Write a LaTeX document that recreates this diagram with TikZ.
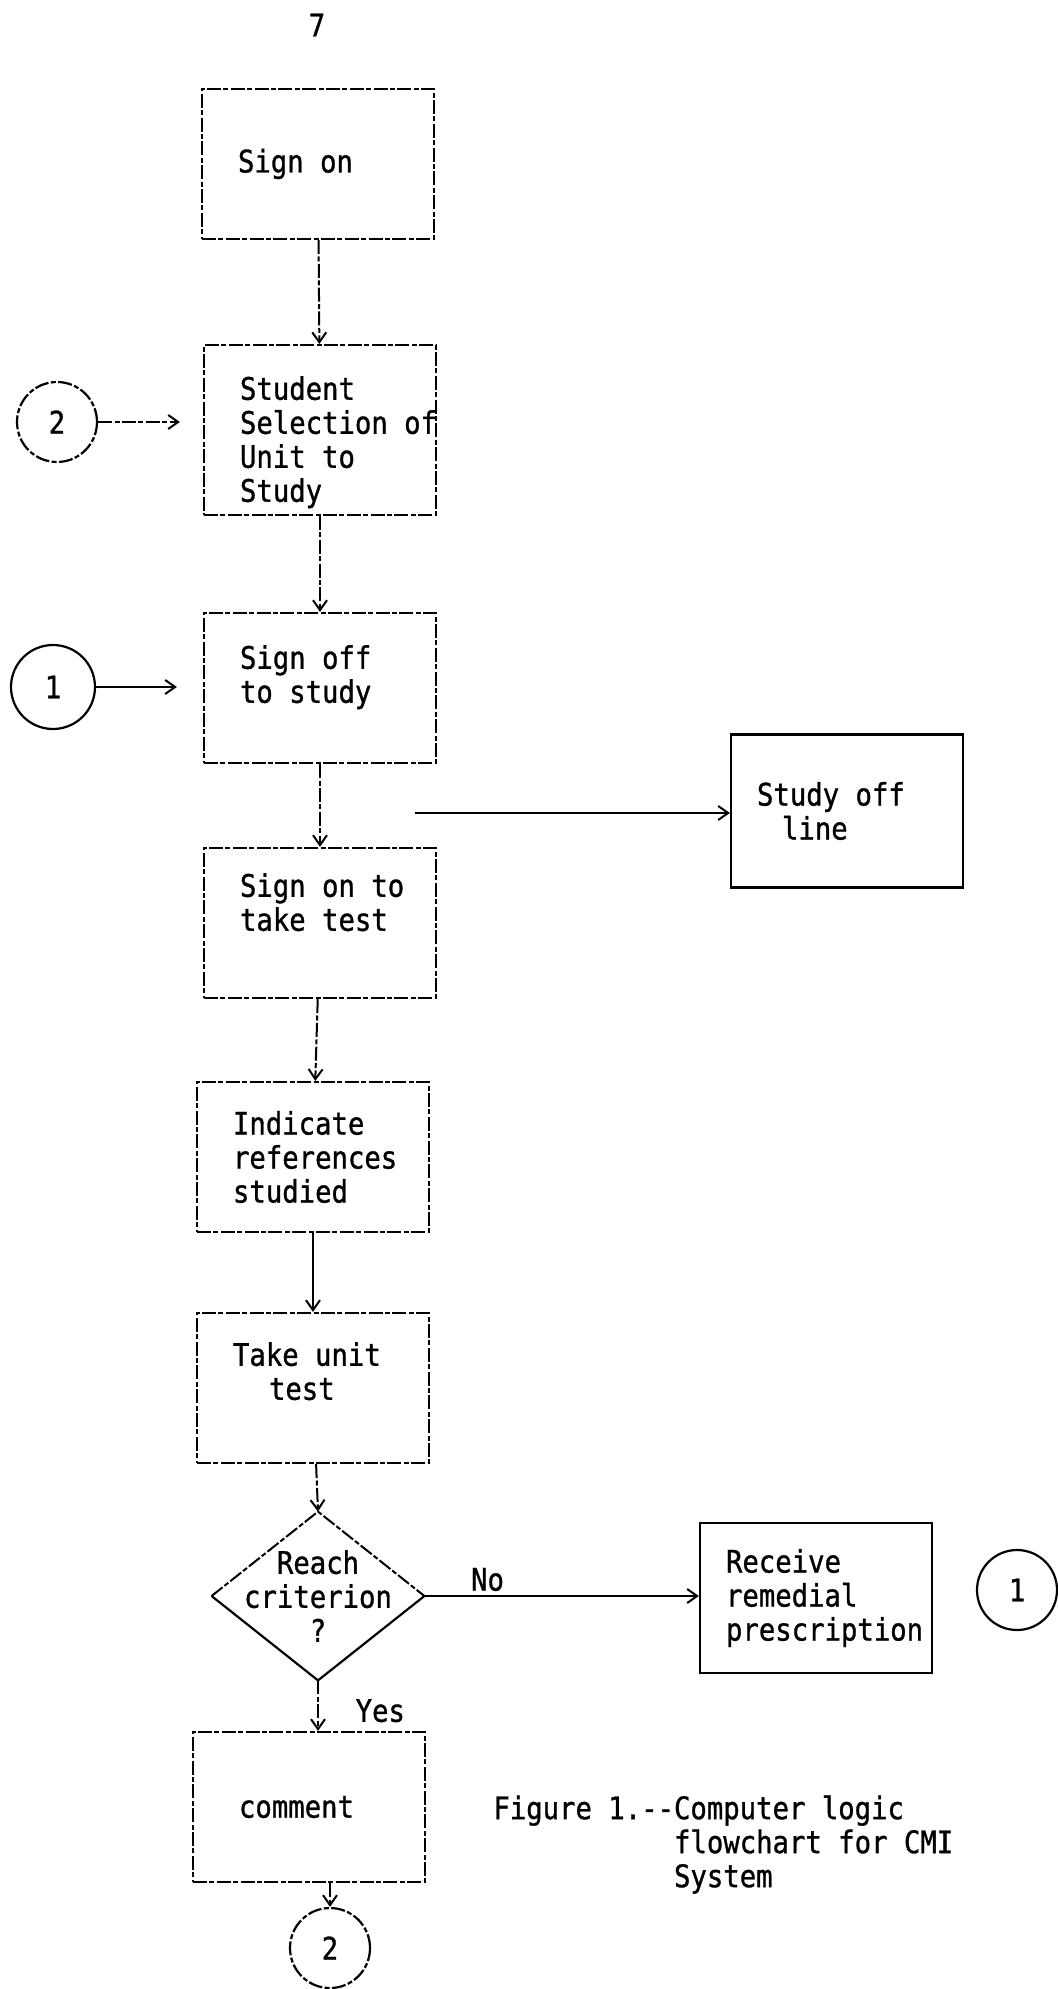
\documentclass[tikz,border=0pt]{standalone}
\usepackage{fontspec}
\newfontfamily\chartfont[FakeStretch=0.88,FakeBold=1,Ligatures=TeXOff]{DejaVu Sans Mono}
\newcommand\chartfontset{\chartfont\fontsize{15.5pt}{17pt}\selectfont
	\fontdimen2\font=8.21pt\fontdimen3\font=0pt\fontdimen4\font=0pt}
\usetikzlibrary{shapes.geometric,arrows.meta,positioning}

\begin{document}
\begin{tikzpicture}[x=0.5pt,y=-0.5pt,font=\chartfontset,
		faded/.style={dash pattern=on 7pt off 1.2pt on 2.5pt off 1.2pt},
		box/.style={draw,faded,line width=1.1pt,minimum height=75pt,text width=80pt,inner xsep=18pt,align=left,
			execute at begin node={\spaceskip=8.21pt\xspaceskip=8.21pt\relax}},
		sidebox/.style={draw,line width=1.1pt,minimum height=75pt,text width=90pt,inner xsep=13pt,align=left,
			execute at begin node={\spaceskip=8.21pt\xspaceskip=8.21pt\relax}},
		conn/.style={draw,circle,line width=1.1pt,minimum size=40pt,inner sep=0pt},
		flow/.style={line width=1pt,-{Straight Barb[length=5pt,width=7pt]}}]
			\useasboundingbox (0,0) rectangle (1058,1989);
			
			\node (page) at (317,25) {7};
			
			\node[box] (signon) at (318,164) {Sign on};
			\node[box] (select) at (320,430) {\rule{0pt}{24pt}Student\\Selection~of\\Unit to\\Study};
			\node[box] (signoff) at (320,688) {Sign off\\to study\rule[-14pt]{0pt}{0pt}};
			\node[box] (taketest) at (320,923) {Sign~on~to\\take test\rule[-21pt]{0pt}{0pt}};
			\node[box] (indicate) at (313,1157) {Indicate\\references\\studied};
			\node[box] (unittest) at (313,1388) {Take unit\\\hspace*{18pt}test\rule[-17pt]{0pt}{0pt}};
			\node[diamond,minimum width=106pt,minimum height=84pt,inner sep=0pt,
				label={[align=center,font=\chartfontset]center:Reach\\criterion\\?}] (crit) at (318,1596) {};
			\node[box,text width=70pt,inner xsep=23pt] (comment) at (309,1807) {comment};
			
			\node[sidebox,minimum height=76.5pt] (studyoff) at (847,811) {Study off\\\hspace*{12.5pt}line};
			\node[sidebox] (remedial) at (816,1598) {Receive\\remedial\\prescription};
			
			\node[conn,faded] (back2) at (57,422) {2};
			\node[conn,minimum size=42pt] (back1) at (53,687) {1};
			\node[conn] (goto1) at (1017,1590) {1};
			\node[conn,faded] (goto2) at (330,1948) {2};
			\coordinate (branch) at (415,813);
			
			\draw[faded,line width=1pt] (crit.west) -- (crit.north) -- (crit.east);
			\draw[line width=1.1pt] (crit.west) -- (crit.south) -- (crit.east);
			
			\draw[flow,faded] (signon) -- (select);
			\draw[flow,faded] (select) -- (signoff);
			\draw[flow,faded] (signoff) -- (taketest);
			\draw[flow,faded] (taketest) -- (indicate);
			\draw[flow] (indicate) -- (unittest);
			\draw[flow,faded] (unittest) -- (crit.north);
			\draw[flow,faded] (crit.south) -- node[pos=.6,right=15pt]{Yes} (comment.north -| crit.south);
			\draw[flow,faded] (goto2.north |- comment.south) -- (goto2.north);
			
			\draw[flow,faded,shorten >=11.5pt] (back2.east) -- (back2.east -| select.west);
			\draw[flow,shorten >=13pt] (back1.east) -- (back1.east -| signoff.west);
			\draw[flow] (branch) -- (branch -| studyoff.west);
			\draw[flow] (crit.east) -- node[pos=.23,above,inner sep=2pt]{No} (crit.east -| remedial.west);
			
			\node[anchor=north west,inner sep=0pt,align=left] (caption) at (493,1795)
				{Figure 1.--Computer logic\\\phantom{Figure 1.--}flowchart for CMI\\\phantom{Figure 1.--}System};
		\end{tikzpicture}
\end{document}
